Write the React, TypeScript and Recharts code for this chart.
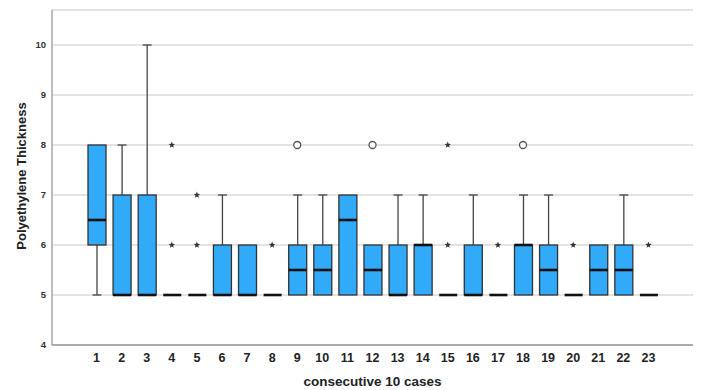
import React from "react";
import {
  ComposedChart,
  Bar,
  Scatter,
  XAxis,
  YAxis,
  CartesianGrid,
  Label,
} from "recharts";

const cases = [
  "1", "2", "3", "4", "5", "6", "7", "8", "9", "10", "11", "12",
  "13", "14", "15", "16", "17", "18", "19", "20", "21", "22", "23",
];
const minVals = [5, 5, 5, 5, 5, 5, 5, 5, 5, 5, 5, 5, 5, 5, 5, 5, 5, 5, 5, 5, 5, 5, 5];
const q1Vals = [6, 5, 5, 5, 5, 5, 5, 5, 5, 5, 5, 5, 5, 5, 5, 5, 5, 5, 5, 5, 5, 5, 5];
const medianVals = [6.5, 5, 5, 5, 5, 5, 5, 5, 5.5, 5.5, 6.5, 5.5, 5, 6, 5, 5, 5, 6, 5.5, 5, 5.5, 5.5, 5];
const q3Vals = [8, 7, 7, 5, 5, 6, 6, 5, 6, 6, 7, 6, 6, 6, 5, 6, 5, 6, 6, 5, 6, 6, 5];
const maxVals = [8, 8, 10, 5, 5, 7, 6, 5, 7, 7, 7, 6, 7, 7, 5, 7, 5, 7, 7, 5, 6, 7, 5];
// extreme values (stars) and outliers (circles)
const starHigh = [null, null, null, 8, 7, null, null, null, null, null, null, null, null, null, 8, null, null, null, null, null, null, null, null];
const starLow = [null, null, null, 6, 6, null, null, 6, null, null, null, null, null, null, 6, null, 6, null, null, 6, null, null, 6];
const circleVals = [null, null, null, null, null, null, null, null, 8, null, null, 8, null, null, null, null, null, 8, null, null, null, null, null];

const yTicks = [4, 5, 6, 7, 8, 9, 10];

const data = cases.map((c, i) => ({
  name: c,
  min: minVals[i],
  q1: q1Vals[i],
  median: medianVals[i],
  q3: q3Vals[i],
  max: maxVals[i],
  starHigh: starHigh[i],
  starLow: starLow[i],
  circle: circleVals[i],
}));

const BoxShape = (props: any) => {
  const { x, y, width, height, payload } = props;
  const { min, q1, median, q3, max } = payload;
  const span = max - min;
  const py = (v: number) => (span > 0 ? y + (height * (max - v)) / span : y);
  const cx = x + width / 2;
  const cap = width * 0.5;
  return (
    <g>
      {max > q3 && (
        <g stroke="#444" strokeWidth={1.3}>
          <line x1={cx} x2={cx} y1={py(max)} y2={py(q3)} />
          <line x1={cx - cap / 2} x2={cx + cap / 2} y1={py(max)} y2={py(max)} />
        </g>
      )}
      {min < q1 && (
        <g stroke="#444" strokeWidth={1.3}>
          <line x1={cx} x2={cx} y1={py(q1)} y2={py(min)} />
          <line x1={cx - cap / 2} x2={cx + cap / 2} y1={py(min)} y2={py(min)} />
        </g>
      )}
      {q3 > q1 && (
        <rect
          x={x}
          y={py(q3)}
          width={width}
          height={py(q1) - py(q3)}
          fill="#31aaf9"
          stroke="#333"
          strokeWidth={1.3}
        />
      )}
      <line x1={x} x2={x + width} y1={py(median)} y2={py(median)} stroke="#111" strokeWidth={2.6} />
    </g>
  );
};

const starShape = (key: string) => (props: any) => {
  const { cx, cy, payload } = props;
  if (payload == null || payload[key] == null || isNaN(cy)) return <g />;
  const pts: string[] = [];
  for (let k = 0; k < 10; k++) {
    const r = k % 2 === 0 ? 3.4 : 1.4;
    const a = -Math.PI / 2 + (k * Math.PI) / 5;
    pts.push(`${cx + r * Math.cos(a)},${cy + r * Math.sin(a)}`);
  }
  return <polygon points={pts.join(" ")} fill="#333" />;
};

const CircleShape = (props: any) => {
  const { cx, cy, payload } = props;
  if (payload == null || payload.circle == null || isNaN(cy)) return <g />;
  return <circle cx={cx} cy={cy} r={3.5} fill="#fff" stroke="#555" strokeWidth={1.3} />;
};

export default function App() {
  return (
    <div style={{ position: "fixed", left: 0, top: 0, background: "#fff" }}>
      <ComposedChart
        width={702}
        height={390}
        data={data}
        margin={{ top: 10, right: 9, bottom: 0, left: 0 }}
        style={{ fontFamily: "Liberation Sans, Arial, sans-serif" }}
      >
        <CartesianGrid horizontal vertical={false} stroke="#c8c8c8" strokeWidth={1.2} />
        <XAxis
          dataKey="name"
          height={45}
          padding={{ left: 32, right: 32 }}
          tickLine={false}
          axisLine={{ stroke: "#9a9a9a", strokeWidth: 1.3 }}
          interval={0}
          tick={{ fill: "#222", fontSize: 12.5, fontWeight: 700 }}
        >
          <Label
            value="consecutive 10 cases"
            position="insideBottom"
            offset={4}
            style={{ fill: "#222", fontSize: 13.5, fontWeight: 700 }}
          />
        </XAxis>
        <YAxis
          width={52}
          domain={[4, 10.7]}
          ticks={yTicks}
          tickLine={false}
          tickSize={4}
          axisLine={{ stroke: "#9a9a9a", strokeWidth: 1.3 }}
          tick={{ fill: "#333", fontSize: 9.5, fontWeight: 700 }}
        >
          <Label
            content={() => (
              <text
                x={21}
                y={176}
                transform="rotate(-90 21 176)"
                textAnchor="middle"
                dominantBaseline="central"
                fill="#222"
                fontSize={13}
                fontWeight={700}
              >
                Polyethylene Thickness
              </text>
            )}
          />
        </YAxis>
        <Bar
          dataKey={(d: any) => [d.min, d.max]}
          barSize={18}
          shape={BoxShape}
          isAnimationActive={false}
        />
        <Scatter dataKey="starHigh" shape={starShape("starHigh")} isAnimationActive={false} />
        <Scatter dataKey="starLow" shape={starShape("starLow")} isAnimationActive={false} />
        <Scatter dataKey="circle" shape={CircleShape} isAnimationActive={false} />
      </ComposedChart>
    </div>
  );
}
